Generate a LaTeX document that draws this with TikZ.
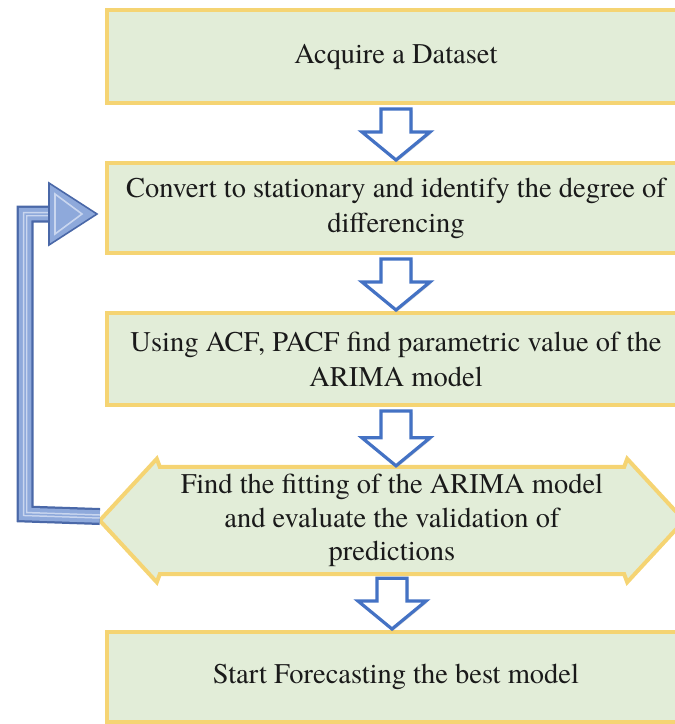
\documentclass[tikz,border=0pt]{standalone}
\usepackage{fontspec}
\newfontfamily\timesf{TeX Gyre Termes}
\usetikzlibrary{calc,shadows}
\definecolor{boxfill}{HTML}{E2EDD8}
\definecolor{boxline}{HTML}{F5D473}
\definecolor{arrblue}{HTML}{4472C4}
\definecolor{fbdark}{HTML}{4A68A8}
\definecolor{fbmid}{HTML}{8EA9DB}
\definecolor{fblight}{HTML}{C9D6EF}
\definecolor{txt}{HTML}{1A1A1A}
\tikzset{
  box/.style={draw=boxline, line width=4pt, fill=boxfill, minimum width=578pt,
    align=center, text=txt, font=\timesf\fontsize{28.5}{35}\selectfont, inner sep=0pt},
  hextext/.style={minimum width=464pt, minimum height=107pt, align=center,
    text=txt, font=\timesf\fontsize{28.5}{33.5}\selectfont, inner sep=0pt},
  hexshape/.style={draw=boxline, line width=4pt, fill=boxfill, line join=miter},
  darr/.style={draw=arrblue, line width=3.2pt, fill=white, line join=miter,
    drop shadow={opacity=0.3, shadow xshift=1.5pt, shadow yshift=-1.5pt}},
}
\newcommand{\blockdown}[2]{%
  \path[darr] let \p1=(#1.south), \p2=(#2.north) in
    (\x1-15pt,\y1-4pt) -- (\x1+15pt,\y1-4pt) -- (\x1+15pt,\y2+29pt) --
    (\x1+34pt,\y2+29pt) -- (\x1,\y2+1pt) -- (\x1-34pt,\y2+29pt) --
    (\x1-15pt,\y2+29pt) -- cycle;}
\begin{document}
\begin{tikzpicture}[x=1pt,y=-1pt]
\useasboundingbox (0,0) rectangle (675,724);
\clip (0,0) rectangle (675,724);
% boxes
\node[box, minimum height=93pt] (b1) at (396,56.5) {Acquire a Dataset};
\node[box, minimum height=90pt] (b2) at (396,208) {Convert to stationary and identify the degree of\\differencing};
\node[box, minimum height=92pt] (b3) at (396,359) {Using ACF, PACF find parametric value of the\\ARIMA model};
\node[hextext] (b4) at (392,520.5) {};
\path[hexshape]
  ($(b4.west)+(-60,0)$) -- ($(b4.north west)+(-3,-8)$) -- (b4.north west) --
  (b4.north east) -- ($(b4.north east)+(3,-8)$) -- ($(b4.east)+(60,0)$) --
  ($(b4.south east)+(3,8)$) -- (b4.south east) -- (b4.south west) --
  ($(b4.south west)+(-3,8)$) -- cycle;
\node[hextext] at (b4.center) {Find the fitting of the ARIMA model\\and evaluate the validation of\\predictions};
\node[box, minimum height=90pt] (b5) at (396,677) {Start Forecasting the best model};
% down block arrows
\blockdown{b1}{b2}
\blockdown{b2}{b3}
\blockdown{b3}{b4}
\blockdown{b4}{b5}
% feedback arrow
\coordinate (fbstart) at ($(b4.west)+(-60,-4)$);
\coordinate (fbtip) at ($(b2.west)+(-8,6)$);
\coordinate (fbcorner1) at (25,514);
\coordinate (fbcorner2) at (25,214);
\coordinate (fbbase) at (52,214);
\foreach \w/\c in {17/fbdark,12.5/fbmid,4.5/fblight,1.5/fbmid}{
  \draw[line width=\w pt, color=\c, line join=miter]
    (fbstart) -- (fbcorner1) -- (fbcorner2) -- (fbbase);
}
\path[draw=fbdark, line width=1.6pt, fill=fbmid, line join=miter]
  (49,183) -- (fbtip) -- (49,245) -- cycle;
\path[draw=fblight, line width=1.6pt, line join=miter]
  (55,194) -- ($(fbtip)+(-15,0)$) -- (55,234) -- cycle;
\end{tikzpicture}
\end{document}
